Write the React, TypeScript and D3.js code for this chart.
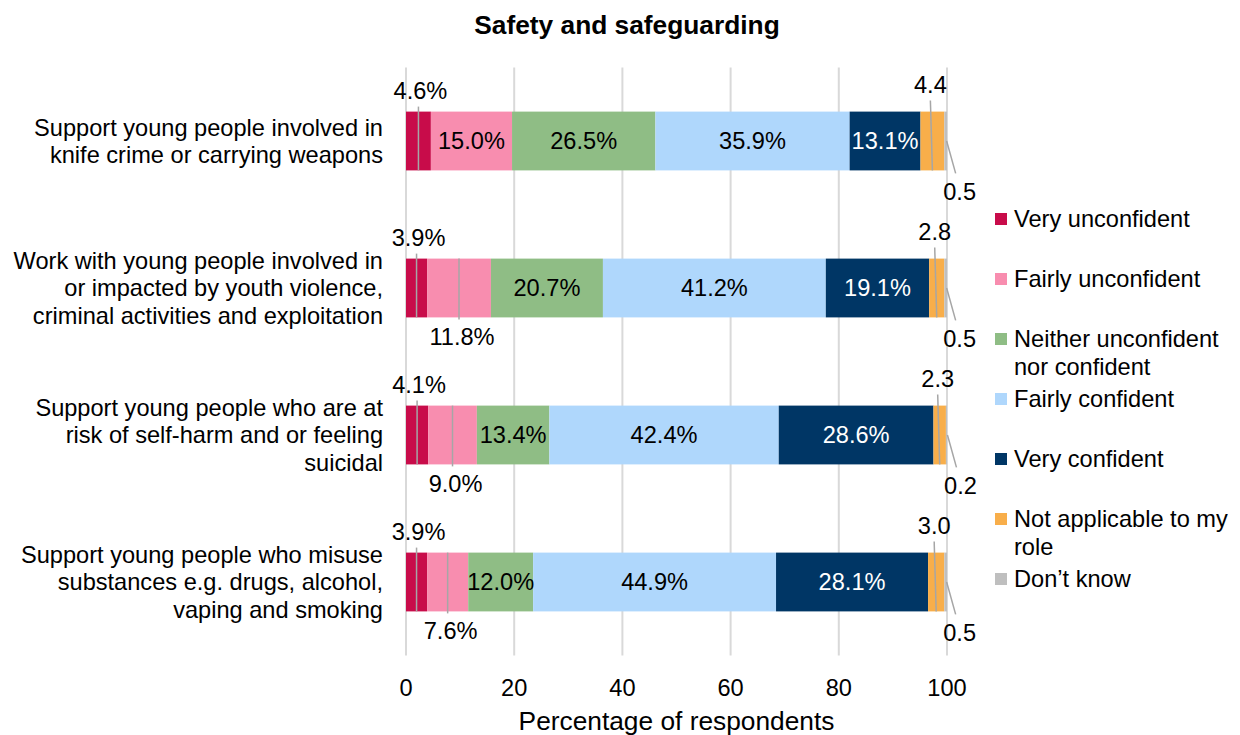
import React from "react";
import * as d3 from "d3";

const categories: string[][] = [
  ["Support young people involved in", "knife crime or carrying weapons"],
  ["Work with young people involved in", "or impacted by youth violence,", "criminal activities and exploitation"],
  ["Support young people who are at", "risk of self-harm and or feeling", "suicidal"],
  ["Support young people who misuse", "substances e.g. drugs, alcohol,", "vaping and smoking"],
];

const seriesNames = [
  "Very unconfident",
  "Fairly unconfident",
  "Neither unconfident nor confident",
  "Fairly confident",
  "Very confident",
  "Not applicable to my role",
  "Don’t know",
];
const legendLines: string[][] = [
  ["Very unconfident"],
  ["Fairly unconfident"],
  ["Neither unconfident", "nor confident"],
  ["Fairly confident"],
  ["Very confident"],
  ["Not applicable to my", "role"],
  ["Don’t know"],
];

const veryUnconfident = [4.6, 3.9, 4.1, 3.9];
const fairlyUnconfident = [15.0, 11.8, 9.0, 7.6];
const neither = [26.5, 20.7, 13.4, 12.0];
const fairlyConfident = [35.9, 41.2, 42.4, 44.9];
const veryConfident = [13.1, 19.1, 28.6, 28.1];
const notApplicable = [4.4, 2.8, 2.3, 3.0];
const dontKnow = [0.5, 0.5, 0.2, 0.5];

const xTicks = [0, 20, 40, 60, 80, 100];

const colors = ["#C80C4A", "#F88DAF", "#8FBD85", "#AFD7FC", "#003665", "#F8AE4A", "#BFBFBF"];
const FONT = "Arial, 'Liberation Sans', sans-serif";
const FS = 23.6;

export default function App() {
  const W = 1240, H = 735;
  const seriesValues = [veryUnconfident, fairlyUnconfident, neither, fairlyConfident, veryConfident, notApplicable, dontKnow];
  const rows = categories.map((_, i) => {
    const r: any = { idx: i };
    seriesNames.forEach((s, j) => (r[s] = seriesValues[j][i]));
    return r;
  });
  const stacked = d3.stack<any>().keys(seriesNames)(rows);

  const x = d3.scaleLinear().domain([0, 100]).range([406, 947]);
  const y = d3.scaleBand<number>().domain(categories.map((_, i) => i)).range([67.5, 655.5]).paddingInner(0.6).paddingOuter(0.3);
  const bw = y.bandwidth();
  const lc = "#A6A6A6";

  const marks: JSX.Element[] = [];
  const labels: JSX.Element[] = [];

  stacked.forEach((layer, j) => {
    layer.forEach((d, i) => {
      const x0 = x(d[0]), x1 = x(d[1]);
      const top = y(i)!;
      const bottom = top + bw;
      const mid = (x0 + x1) / 2;
      const v = seriesValues[j][i];
      marks.push(<rect key={`r${j}-${i}`} x={x0} y={top} width={x1 - x0} height={bw} fill={colors[j]} />);
      const inside = (j >= 1 && j <= 4) && v >= 12;
      if (inside) {
        labels.push(
          <text key={`t${j}-${i}`} x={mid} y={top + bw / 2} dy="0.36em" textAnchor="middle" fill={j === 4 ? "#FFFFFF" : "#000000"} fontSize={FS}>
            {v.toFixed(1)}%
          </text>
        );
      } else if (j === 0) {
        const base = top - 13;
        labels.push(<line key={`l${j}-${i}`} x1={mid} x2={mid} y1={base + 8} y2={bottom} stroke={lc} strokeWidth={1.5} />);
        labels.push(<text key={`t${j}-${i}`} x={mid + 2} y={base} textAnchor="middle" fontSize={FS}>{v.toFixed(1)}%</text>);
      } else if (j === 1) {
        const base = bottom + 28;
        labels.push(<line key={`l${j}-${i}`} x1={mid} x2={mid} y1={top} y2={bottom + 2} stroke={lc} strokeWidth={1.5} />);
        labels.push(<text key={`t${j}-${i}`} x={mid + 3} y={base} textAnchor="middle" fontSize={FS}>{v.toFixed(1)}%</text>);
      } else if (j === 5) {
        const base = top - 19;
        const lx = mid - 2;
        labels.push(<line key={`l${j}-${i}`} x1={lx} x2={mid} y1={base + 8} y2={bottom} stroke={lc} strokeWidth={1.5} />);
        labels.push(<text key={`t${j}-${i}`} x={lx} y={base} textAnchor="middle" fontSize={FS}>{v.toFixed(1)}</text>);
      } else if (j === 6) {
        const lx = mid + 14;
        const base = bottom + 30;
        labels.push(<line key={`l${j}-${i}`} x1={mid + 1} x2={mid + 10} y1={top + bw / 2} y2={bottom + 3} stroke={lc} strokeWidth={1.5} />);
        labels.push(<text key={`t${j}-${i}`} x={lx} y={base} textAnchor="middle" fontSize={FS}>{v.toFixed(1)}</text>);
      }
    });
  });

  const lineH = 27.5;

  return (
    <svg width={W} height={H} style={{ position: "absolute", left: 0, top: 0, display: "block", background: "#fff" }} fontFamily={FONT}>
      <rect width={W} height={H} fill="#fff" />
      <text x={627} y={34} textAnchor="middle" fontWeight="bold" fontSize={26.3}>Safety and safeguarding</text>
      {xTicks.map((t) => (
        <g key={`g${t}`}>
          <line x1={x(t)} x2={x(t)} y1={67.5} y2={655.5} stroke="#D9D9D9" strokeWidth={2} />
          <text x={x(t)} y={695.5} textAnchor="middle" fontSize={FS}>{t}</text>
        </g>
      ))}
      {marks}
      {labels}
      {categories.map((lines, i) => {
        const c = y(i)! + bw / 2;
        const start = c - ((lines.length - 1) * lineH) / 2;
        return (
          <text key={`c${i}`} textAnchor="end" fontSize={FS}>
            {lines.map((ln, k) => (
              <tspan key={k} x={383} y={start + k * lineH} dy="0.36em">{ln}</tspan>
            ))}
          </text>
        );
      })}
      <text x={(x(0) + x(100)) / 2} y={730} textAnchor="middle" fontSize={26.3}>Percentage of respondents</text>
      {legendLines.map((lines, j) => {
        const cy = 219 + j * 60;
        return (
          <g key={`lg${j}`}>
            <rect x={995} y={cy - 6} width={12} height={12} fill={colors[j]} />
            <text fontSize={FS}>
              {lines.map((ln, k) => (
                <tspan key={k} x={1014} y={cy + k * lineH} dy="0.36em">{ln}</tspan>
              ))}
            </text>
          </g>
        );
      })}
    </svg>
  );
}
